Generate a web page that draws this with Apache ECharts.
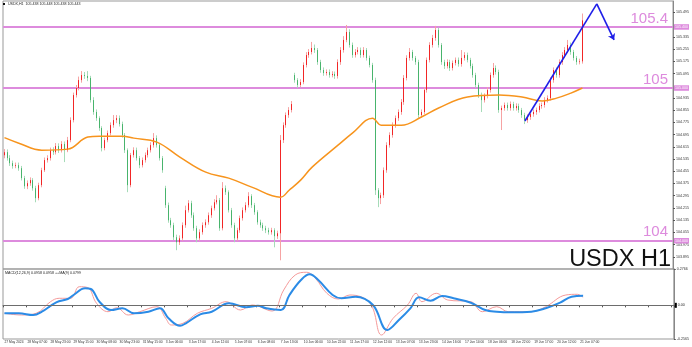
<!DOCTYPE html>
<html><head><meta charset="utf-8">
<script src="https://cdn.jsdelivr.net/npm/echarts@6/dist/echarts.min.js"></script>
<style>html,body{margin:0;padding:0;background:#fff}#c{width:692px;height:347px}</style>
</head><body><div id="c"></div>
<script>
const timeLabels = ['27 May 2024','28 May 07:00','28 May 23:00','29 May 15:00','30 May 08:00','30 May 23:00','31 May 15:00','3 Jun 06:00','3 Jun 17:00','4 Jun 12:00','5 Jun 07:00','6 Jun 08:00','7 Jun 13:00','10 Jun 06:00','10 Jun 22:00','11 Jun 17:00','12 Jun 12:00','13 Jun 07:00','13 Jun 23:00','14 Jun 16:00','17 Jun 14:00','18 Jun 06:00','18 Jun 22:00','19 Jun 17:00','20 Jun 12:00','21 Jun 07:00'];

const opens = [
104.560,104.580,104.541,104.508,104.489,104.495,104.475,104.410,104.357,104.377,
104.397,104.344,104.279,104.364,104.462,104.528,104.541,104.593,104.580,104.620,
104.593,104.633,104.593,104.659,104.790,104.954,105.000,105.052,105.085,105.079,
105.066,104.921,104.843,104.803,104.738,104.607,104.659,104.705,104.757,104.790,
104.803,104.764,104.692,104.593,104.364,104.561,104.593,104.541,104.495,104.528,
104.561,104.593,104.626,104.672,104.626,104.541,104.344,104.233,104.134,104.102,
104.023,103.990,104.016,104.102,104.200,104.246,104.167,104.082,104.016,104.056,
104.102,104.121,104.167,104.213,104.252,104.266,104.082,104.344,104.318,104.200,
104.102,104.016,104.069,104.148,104.200,104.233,104.292,104.233,104.187,104.121,
104.102,104.082,104.069,104.056,104.069,104.030,104.049,104.659,104.757,104.823,
104.856,105.085,105.052,105.020,105.039,105.151,105.216,105.236,105.262,105.249,
105.170,105.118,105.098,105.105,105.085,105.092,105.079,105.170,105.249,105.315,
105.367,105.282,105.216,105.236,105.249,105.216,105.249,105.197,105.151,105.052,
104.331,104.279,104.298,104.462,104.626,104.692,104.757,104.803,104.843,104.908,
105.066,105.197,105.236,105.197,105.170,104.823,104.843,104.987,105.184,105.282,
105.328,105.380,105.282,105.170,105.144,105.170,105.131,105.164,105.184,105.157,
105.197,105.216,105.184,105.144,105.085,105.020,104.954,104.921,104.948,104.987,
105.085,105.131,105.105,104.856,104.869,104.889,104.869,104.895,104.869,104.882,
104.856,104.823,104.790,104.810,104.829,104.843,104.856,104.882,104.889,104.921,
104.934,105.052,105.118,105.085,105.170,105.216,105.249,105.282,105.236,105.197,
105.170,105.175];

const closes = [
104.580,104.541,104.508,104.489,104.495,104.475,104.410,104.357,104.377,104.397,
104.344,104.279,104.364,104.462,104.528,104.541,104.593,104.580,104.620,104.593,
104.633,104.593,104.659,104.790,104.954,105.000,105.052,105.085,105.079,105.066,
104.921,104.843,104.803,104.738,104.607,104.659,104.705,104.757,104.790,104.803,
104.764,104.692,104.593,104.364,104.561,104.593,104.541,104.495,104.528,104.561,
104.593,104.626,104.672,104.626,104.541,104.462,104.233,104.134,104.102,104.023,
103.990,104.016,104.102,104.200,104.246,104.167,104.082,104.016,104.056,104.102,
104.121,104.167,104.213,104.252,104.266,104.082,104.344,104.318,104.200,104.102,
104.016,104.069,104.148,104.200,104.233,104.292,104.233,104.187,104.121,104.102,
104.082,104.069,104.056,104.069,104.030,104.049,104.659,104.757,104.823,104.856,
104.895,105.052,105.020,105.039,105.151,105.216,105.236,105.262,105.249,105.170,
105.118,105.098,105.105,105.085,105.092,105.079,105.170,105.249,105.315,105.367,
105.282,105.216,105.236,105.249,105.216,105.249,105.197,105.151,105.052,104.331,
104.279,104.298,104.462,104.626,104.692,104.757,104.803,104.843,104.908,105.066,
105.197,105.236,105.197,105.170,104.823,104.843,104.987,105.184,105.282,105.328,
105.380,105.282,105.170,105.144,105.170,105.131,105.164,105.184,105.157,105.197,
105.216,105.184,105.144,105.085,105.020,104.954,104.921,104.948,104.987,105.085,
105.131,105.105,104.856,104.869,104.889,104.869,104.895,104.869,104.882,104.856,
104.823,104.790,104.810,104.829,104.843,104.856,104.882,104.889,104.921,104.934,
105.052,105.118,105.085,105.170,105.216,105.249,105.282,105.236,105.197,105.170,
105.175,105.443];

const lows = [
104.540,104.525,104.490,104.472,104.475,104.458,104.395,104.340,104.338,104.360,
104.328,104.252,104.265,104.350,104.450,104.512,104.525,104.562,104.565,104.575,
104.578,104.515,104.580,104.645,104.775,104.938,104.985,105.035,105.060,105.045,
104.905,104.825,104.785,104.720,104.585,104.592,104.645,104.690,104.740,104.770,
104.748,104.675,104.575,104.318,104.350,104.545,104.525,104.475,104.480,104.512,
104.545,104.578,104.610,104.610,104.525,104.445,104.215,104.118,104.085,104.005,
103.938,103.972,104.000,104.085,104.185,104.150,104.065,103.990,104.000,104.040,
104.085,104.105,104.150,104.198,104.238,104.065,104.068,104.300,104.185,104.085,
103.990,104.000,104.052,104.132,104.185,104.218,104.215,104.170,104.105,104.085,
104.065,104.050,104.040,104.040,103.957,104.012,103.872,104.640,104.740,104.805,
104.840,105.035,105.000,105.005,105.025,105.135,105.198,105.220,105.230,105.152,
105.100,105.080,105.082,105.068,105.070,105.060,105.062,105.152,105.232,105.300,
105.265,105.198,105.200,105.220,105.198,105.200,105.180,105.135,105.035,104.300,
104.220,104.240,104.280,104.445,104.610,104.675,104.740,104.785,104.825,104.890,
105.050,105.180,105.180,105.152,104.805,104.805,104.828,104.970,105.168,105.265,
105.310,105.265,105.152,105.125,105.128,105.112,105.115,105.148,105.140,105.140,
105.180,105.168,105.128,105.068,105.002,104.935,104.843,104.905,104.932,104.970,
105.068,105.088,104.838,104.725,104.852,104.852,104.852,104.852,104.852,104.838,
104.805,104.764,104.772,104.792,104.812,104.825,104.840,104.865,104.872,104.905,
104.918,105.035,105.068,105.068,105.152,105.198,105.232,105.218,105.180,105.152,
105.155,105.160];

const highs = [
104.600,104.598,104.560,104.525,104.512,104.512,104.490,104.425,104.395,104.415,
104.410,104.360,104.380,104.478,104.545,104.560,104.610,104.612,104.640,104.638,
104.652,104.650,104.680,104.808,104.970,105.020,105.075,105.111,105.105,105.111,
105.080,104.940,104.860,104.815,104.750,104.675,104.722,104.775,104.823,104.823,
104.820,104.780,104.705,104.605,104.575,104.612,104.610,104.555,104.545,104.578,
104.610,104.645,104.705,104.690,104.640,104.555,104.360,104.250,104.150,104.118,
104.040,104.035,104.120,104.230,104.266,104.262,104.185,104.098,104.075,104.120,
104.140,104.185,104.230,104.272,104.298,104.280,104.384,104.362,104.330,104.215,
104.118,104.085,104.165,104.218,104.252,104.318,104.305,104.248,104.200,104.138,
104.118,104.098,104.085,104.085,104.082,104.066,104.692,104.775,104.840,104.875,
104.915,105.100,105.065,105.058,105.168,105.235,105.255,105.302,105.285,105.262,
105.185,105.135,105.122,105.122,105.110,105.108,105.188,105.268,105.340,105.413,
105.385,105.298,105.255,105.268,105.265,105.268,105.262,105.212,105.165,105.068,
104.345,104.315,104.480,104.645,104.710,104.775,104.820,104.860,104.928,105.085,
105.215,105.262,105.250,105.210,105.185,104.860,105.005,105.200,105.300,105.348,
105.407,105.395,105.295,105.185,105.188,105.185,105.180,105.200,105.200,105.249,
105.235,105.232,105.198,105.160,105.100,105.035,104.970,104.965,105.005,105.102,
105.164,105.148,105.120,104.885,104.905,104.905,104.912,104.910,104.900,104.898,
104.870,104.838,104.828,104.845,104.860,104.872,104.900,104.905,104.940,104.952,
105.070,105.135,105.135,105.188,105.235,105.268,105.315,105.298,105.250,105.210,
105.192,105.488];

// moving average (orange) read at selected bars: [bar index, price]
const maPoints = [[0,104.675],[5,104.639],[13,104.593],[22,104.600],[29,104.679],[33,104.685],[41,104.685],[45,104.672],[53,104.646],[61,104.548],[70,104.449],[78,104.410],[86,104.351],[96,104.285],[99,104.331],[103,104.397],[107,104.482],[116,104.626],[121,104.705],[128,104.803],[131,104.757],[138,104.757],[145,104.810],[151,104.869],[161,104.941],[172,104.954],[180,104.941],[187,104.915],[192,104.934],[197,104.967],[201,105.000]];

// MACD panel lines: [bar index, value]
const macdBlue = [[0,-0.0608],[5,-0.0608],[10,-0.0737],[13,-0.0486],[18,0.0230],[22,0.0481],[24,0.0786],[28,0.1296],[30,0.1243],[33,0.0276],[37,-0.0357],[41,-0.0227],[45,-0.0608],[50,-0.0486],[54,-0.0227],[57,-0.0989],[61,-0.1552],[63,-0.1370],[68,-0.0684],[72,-0.0486],[78,0.0154],[84,-0.0151],[88,-0.0029],[91,-0.0227],[96,-0.0357],[99,0.0786],[103,0.1928],[106,0.2362],[109,0.1928],[114,0.0786],[117,0.0535],[122,0.0656],[128,0.0024],[133,-0.1880],[137,-0.1118],[141,-0.0227],[144,0.0611],[148,0.0352],[152,0.0710],[156,0.0535],[162,0.0200],[167,-0.0357],[171,-0.0486],[176,-0.0532],[183,-0.0486],[188,-0.0227],[193,0.0200],[197,0.0656],[201,0.0733]];
const macdRed = [[0,-0.0608],[6,-0.0737],[11,-0.0608],[16,0.0276],[19,0.0535],[23,0.0535],[26,0.1418],[29,0.1342],[32,0.0154],[36,-0.0486],[39,-0.0181],[43,-0.0737],[47,-0.0486],[53,-0.0105],[56,-0.0989],[58,-0.1499],[62,-0.1370],[67,-0.0608],[72,-0.0227],[77,0.0276],[82,-0.0357],[86,0.0024],[93,-0.0433],[97,0.1167],[101,0.2309],[105,0.2515],[108,0.2058],[112,0.0915],[116,0.0481],[120,0.0786],[127,0.0154],[131,-0.2261],[135,-0.0989],[140,0.0024],[143,0.0915],[145,0.0276],[150,0.0915],[154,0.0405],[162,0.0276],[166,-0.0486],[171,-0.0105],[175,-0.0486],[183,-0.0486],[188,-0.0105],[195,0.0786],[199,0.0839],[201,0.0611]];

const levels = [105.4, 105.0, 104.0];
const levelTexts = ['105.4', '105', '104'];
const levelBoxTexts = ['105.400', '105.000', '104.000'];
const lastPrice = 105.443;
const priceTicks = [105.495,105.335,105.255,105.175,105.095,104.935,104.855,104.775,104.695,104.615,104.535,104.455,104.375,104.295,104.215,104.135,104.055,103.975,103.895];
const macdTicks = [0.2766, -0.2565];
const trendUp = [[181,104.784],[206,105.551]];
const trendDown = [[206,105.551],[212,105.315]];
const SLOTS = 233;

const cats = [];
for (let i = 0; i < SLOTS; i++) cats.push(String(i));
const wickData = opens.map((o, i) => [o, closes[i], lows[i], highs[i]]);
const bodyData = opens.map((o, i) => [o, closes[i], Math.min(o, closes[i]), Math.max(o, closes[i])]);

const VIOLET = '#dd8bdd';
const FONT = 'Liberation Sans, Arial, sans-serif';
const chart = echarts.init(document.getElementById('c'), null, {renderer: 'canvas'});

const levelLines = [];
levels.forEach((v, k) => {
  levelLines.push({yAxis: v, lineStyle: {color: VIOLET, width: 2, type: 'solid'},
    label: {show: true, position: 'insideEndTop', formatter: levelTexts[k], color: VIOLET, fontSize: 15, fontFamily: FONT, distance: [5, 1]}});
  levelLines.push({yAxis: v, lineStyle: {color: VIOLET, width: 2, type: 'solid'},
    label: {show: true, position: 'end', formatter: levelBoxTexts[k], color: '#fff', backgroundColor: VIOLET, fontSize: 3.6, fontFamily: FONT, padding: [1, 1, 0.5, 1], distance: 1}});
});
levelLines.push({yAxis: lastPrice, lineStyle: {opacity: 0},
  label: {show: true, position: 'end', formatter: lastPrice.toFixed(3), color: '#fff', backgroundColor: '#000', fontSize: 3.6, fontFamily: FONT, padding: [1, 1, 0.5, 1], distance: 1}});

const option = {
  animation: false,
  backgroundColor: '#fff',
  textStyle: {fontFamily: FONT},
  grid: [
    {left: 3, right: 17, top: 1, height: 268, show: true, borderColor: '#999', borderWidth: 1},
    {left: 3, right: 17, top: 269, height: 70, show: true, borderColor: '#999', borderWidth: 1}
  ],
  xAxis: [
    {type: 'category', gridIndex: 0, data: cats, boundaryGap: true, axisLine: {show: false}, axisTick: {show: false}, axisLabel: {show: false}, splitLine: {show: false}},
    {type: 'category', gridIndex: 1, data: cats, boundaryGap: true,
      axisLine: {show: true, lineStyle: {color: '#888', width: 1}},
      axisTick: {show: true, interval: 7, length: 2, lineStyle: {color: '#555'}},
      axisLabel: {show: true, interval: 7, fontSize: 3.3, color: '#333', margin: 2, align: 'left', hideOverlap: false,
        formatter: (val, idx) => (idx % 8 === 0 && timeLabels[idx / 8]) ? timeLabels[idx / 8] : ''},
      splitLine: {show: false}}
  ],
  yAxis: [
    {type: 'value', gridIndex: 0, position: 'right', min: 103.815, max: 105.570, scale: true,
      axisLine: {show: true, lineStyle: {color: '#888'}},
      axisTick: {show: true, length: 2, customValues: priceTicks, lineStyle: {color: '#555'}},
      axisLabel: {show: true, fontSize: 3.6, color: '#333', margin: 3, customValues: priceTicks, formatter: v => v.toFixed(3)},
      splitLine: {show: false}},
    {type: 'value', gridIndex: 1, position: 'right', min: -0.2565, max: 0.2766,
      axisLine: {show: true, lineStyle: {color: '#888'}},
      axisTick: {show: true, length: 2, customValues: macdTicks, lineStyle: {color: '#555'}},
      axisLabel: {show: true, fontSize: 3.6, color: '#333', margin: 3, customValues: macdTicks, formatter: v => v.toFixed(4)},
      splitLine: {show: false}}
  ],
  series: [
    {type: 'candlestick', xAxisIndex: 0, yAxisIndex: 0, barWidth: 1, data: wickData, z: 3,
      itemStyle: {color: '#f6a3a3', color0: '#a6dbb8', borderColor: '#f6a3a3', borderColor0: '#a6dbb8', borderColorDoji: '#f6a3a3', borderWidth: 1},
      markLine: {silent: true, symbol: ['none', 'none'], animation: false, data: levelLines, z: 2}},
    {type: 'candlestick', xAxisIndex: 0, yAxisIndex: 0, barWidth: 1, data: bodyData, z: 4,
      itemStyle: {color: '#f22626', color0: '#48b46c', borderColor: '#f22626', borderColor0: '#48b46c', borderColorDoji: '#f22626', borderWidth: 1}},
    {type: 'line', xAxisIndex: 0, yAxisIndex: 0, data: maPoints, smooth: 0.4, showSymbol: false, z: 5,
      lineStyle: {color: '#f7941d', width: 1.5}},
    {type: 'lines', coordinateSystem: 'cartesian2d', xAxisIndex: 0, yAxisIndex: 0, z: 6,
      symbol: ['none', 'none'], lineStyle: {color: '#1f1fe8', width: 1.6, opacity: 1, curveness: 0},
      data: [{coords: trendUp}]},
    {type: 'lines', coordinateSystem: 'cartesian2d', xAxisIndex: 0, yAxisIndex: 0, z: 6,
      symbol: ['none', 'arrow'], symbolSize: 6, lineStyle: {color: '#1f1fe8', width: 1.6, opacity: 1, curveness: 0},
      data: [{coords: trendDown}]},
    {type: 'line', xAxisIndex: 1, yAxisIndex: 1, data: macdRed, smooth: 0.4, showSymbol: false, z: 3,
      lineStyle: {color: '#f59a9a', width: 1},
      markLine: {silent: true, symbol: ['none', 'none'], animation: false,
        data: [{yAxis: 0, lineStyle: {color: '#6d6d6d', width: 1, type: 'solid'},
          label: {show: true, position: 'end', distance: 1, fontSize: 3.6, color: '#222',
            formatter: '{b|}{t|0.00}', rich: {b: {backgroundColor: '#000', width: 2, height: 5}, t: {fontSize: 3.6, color: '#222', padding: [0, 0, 0, 1]}}}}]}},
    {type: 'line', xAxisIndex: 1, yAxisIndex: 1, data: macdBlue, smooth: 0.4, showSymbol: false, z: 4,
      lineStyle: {color: '#2b8be6', width: 2}}
  ],
  graphic: [
    {type: 'rect', left: 3, top: 3, shape: {width: 2, height: 2}, style: {fill: '#111'}},
    {type: 'text', left: 8, top: 2, style: {text: 'USDX,H1  105.438 105.448 105.438 105.443', font: '3.6px ' + FONT, fill: '#222'}},
    {type: 'text', left: 5, top: 271, style: {text: 'MACD(12,26,9) 0.0958 0.0958 ++MA(9) 0.0799', font: '3.6px ' + FONT, fill: '#222'}},
    {type: 'text', right: 21, top: 248, z: 10, style: {text: 'USDX H1', font: '23.5px ' + FONT, fill: '#111'}}
  ]
};
chart.setOption(option);
</script>
</body></html>
